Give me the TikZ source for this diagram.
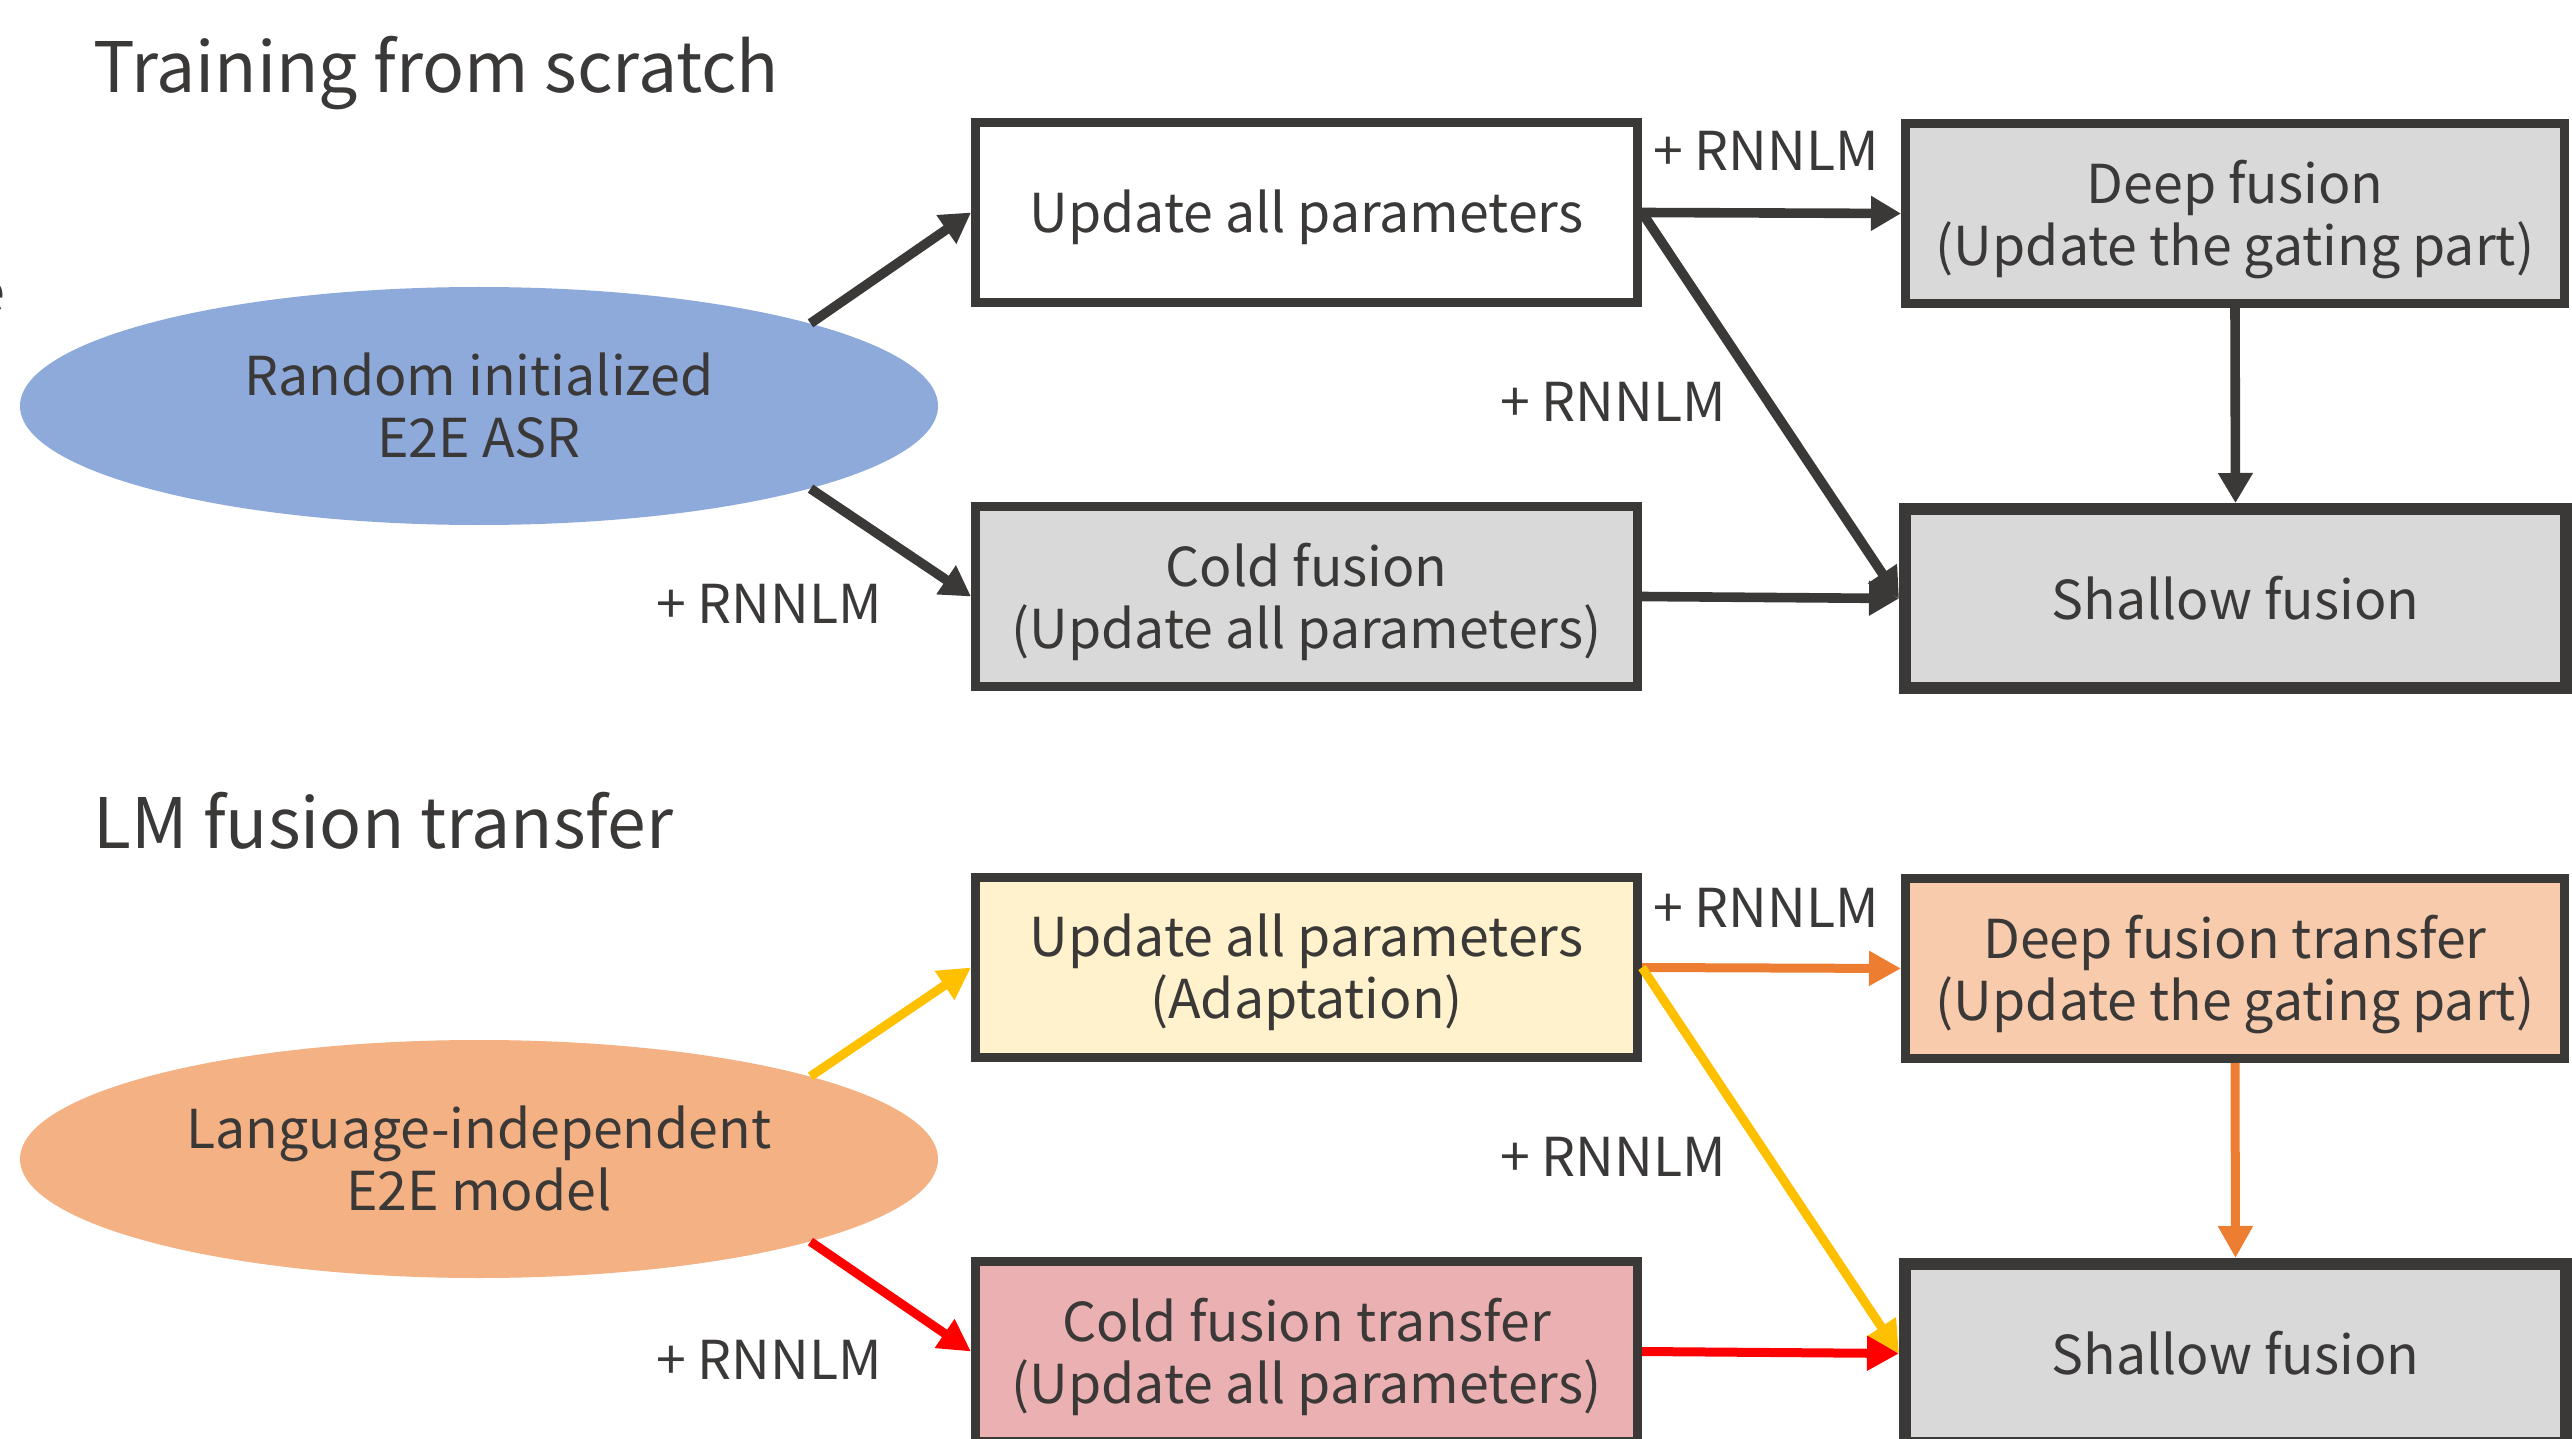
\documentclass[tikz,border=0pt]{standalone}
\usepackage{fontspec}
\setmainfont{Noto Sans CJK JP}
\usetikzlibrary{arrows.meta,shapes.geometric}
\definecolor{tx}{HTML}{3B3838}
\definecolor{ebl}{HTML}{8EAADB}
\definecolor{eor}{HTML}{F4B183}
\definecolor{gry}{HTML}{D9D9D9}
\definecolor{ylw}{HTML}{FFF2CC}
\definecolor{pch}{HTML}{F8CBAD}
\definecolor{pnk}{HTML}{EBB0B2}
\definecolor{ayl}{HTML}{FFC000}
\definecolor{aor}{HTML}{ED7D31}
\definecolor{ard}{HTML}{FF0000}
\begin{document}
\begin{tikzpicture}[x=0.5pt,y=-0.5pt,
  txtf/.style={font={\fontsize{26.8pt}{31pt}\selectfont}, text=tx},
  titlef/.style={font={\fontsize{34.8pt}{40pt}\selectfont}, text=tx},
  boxnode/.style={txtf, draw=tx, line width=4.5pt, minimum width=331pt, minimum height=90pt, inner sep=0pt, align=center, text depth=1pt},
  shalnode/.style={boxnode, line width=6pt, fill=gry, minimum width=330.5pt, minimum height=89.5pt},
  ell/.style={ellipse, txtf, minimum width=459pt, minimum height=119pt, inner sep=0pt, align=center},
  lbl/.style={txtf, inner sep=0pt},
  arr/.style={line width=4.8pt, -{Triangle[length=15pt,width=16.5pt]}},
  arrb/.style={line width=4.5pt, -{Triangle[length=16pt,width=16.5pt]}}
]
\useasboundingbox (0,0) rectangle (2572,1439);
\fill[white] (0,0) rectangle (2572,1439);

% fragment at left edge
\node[txtf, anchor=base east, inner sep=0pt] (frag) at (6,312) {e};

% ---------- Top section ----------
\node[titlef, anchor=base west, inner sep=0pt] (t1) at (93,93) {Training from scratch};
\node[ell, fill=ebl] (e1) at (479,406) {Random initialized\\E2E ASR};
\node[boxnode, fill=white] (upd) at (1306.5,212.5) {Update all parameters};
\node[boxnode, fill=gry] (cold) at (1306.5,596.5) {Cold fusion\\(Update all parameters)};
\node[boxnode, fill=gry, minimum width=329.5pt] (deep) at (2235,213.5) {Deep fusion\\(Update the gating part)};
\node[shalnode] (shal) at (2235.5,598.5) {Shallow fusion};

\node[lbl] (l1) at (1766,151) {+ RNNLM};
\node[lbl] (l2) at (1613,402) {+ RNNLM};
\node[lbl] (l3) at (769,604) {+ RNNLM};

\draw[arr, tx] (e1.14) -- (upd.west);
\draw[arr, tx] (e1.-14) -- (cold.west);
\draw[arr, tx] (upd.east) -- (deep.west);
\draw[arr, tx] (upd.east) -- (shal.west);
\draw[arr, tx] (cold.east) -- (shal.west);
\draw[arr, tx] (deep.south) -- (shal.north);

% ---------- Bottom section ----------
\node[titlef, anchor=base west, inner sep=0pt] (t2) at (93,848) {LM fusion transfer};
\node[ell, fill=eor] (e2) at (479,1159) {Language-independent\\E2E model};
\node[boxnode, fill=ylw] (upd2) at (1306.5,967.5) {Update all parameters\\(Adaptation)};
\node[boxnode, fill=pnk] (cold2) at (1306.5,1351.5) {Cold fusion transfer\\(Update all parameters)};
\node[boxnode, fill=pch, minimum width=329.5pt] (deep2) at (2235,968.5) {Deep fusion transfer\\(Update the gating part)};
\node[shalnode] (shal2) at (2235.5,1353.5) {Shallow fusion};

\node[lbl] (l4) at (1766,908) {+ RNNLM};
\node[lbl] (l5) at (1613,1157) {+ RNNLM};
\node[lbl] (l6) at (769,1360) {+ RNNLM};

\draw[arrb, ayl] (e2.14) -- (upd2.west);
\draw[arrb, ard] (e2.-14) -- (cold2.west);
\draw[arrb, aor] (upd2.east) -- (deep2.west);
\draw[arrb, ayl] (upd2.east) -- (shal2.west);
\draw[arrb, ard] (cold2.east) -- (shal2.west);
\draw[arrb, aor] (deep2.south) -- (shal2.north);
\end{tikzpicture}
\end{document}
